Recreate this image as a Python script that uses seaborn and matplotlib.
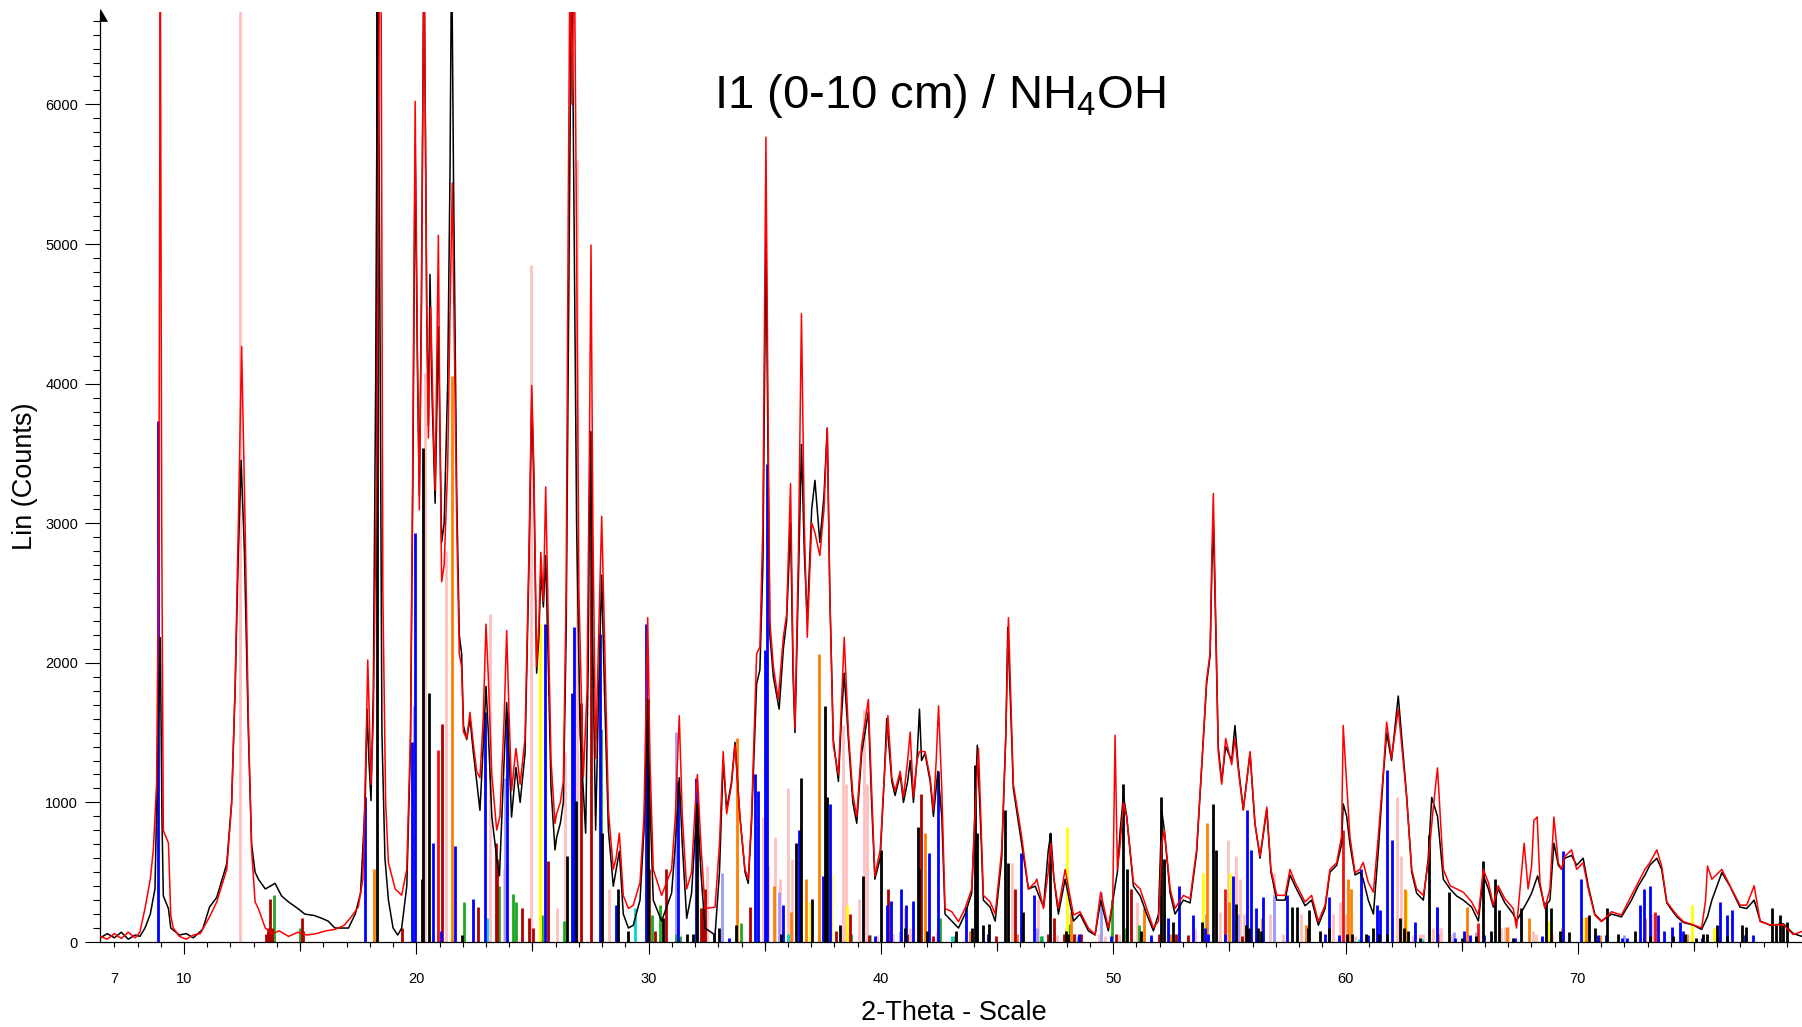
import numpy as np
import matplotlib
matplotlib.use("Agg")
import matplotlib.pyplot as plt
import seaborn as sns
from matplotlib.patches import Polygon
from matplotlib.ticker import FixedLocator, MultipleLocator, FuncFormatter

red_scan = [
    (6.40, 40), (6.7, 20), (7.0, 60), (7.3, 25), (7.6, 70), (7.9, 30), (8.1, 70), (8.32, 240),
    (8.55, 450), (8.68, 660), (8.82, 1130), (8.92, 3000), (8.98, 7200), (9.04, 3000), (9.11, 800),
    (9.2, 760), (9.33, 710), (9.43, 190), (9.54, 100), (9.8, 40), (10.1, 20), (10.4, 50), (10.7, 60),
    (10.83, 100), (11.1, 180), (11.41, 287), (11.84, 520), (12.05, 990), (12.2, 1832), (12.34, 3003),
    (12.48, 4267), (12.63, 3000), (12.77, 1600), (12.91, 660), (13.06, 287), (13.2, 240), (13.5, 100),
    (13.8, 60), (14.1, 80), (14.5, 40), (14.9, 70), (15.3, 50), (15.7, 60), (16.1, 80), (16.5, 90),
    (16.9, 120), (17.2, 180), (17.5, 250), (17.7, 450), (17.85, 1500), (17.91, 2020), (17.98, 1600),
    (18.05, 1130), (18.15, 1600), (18.3, 3500), (18.42, 7200), (18.48, 7200), (18.56, 2500),
    (18.68, 1000), (18.8, 568), (19.09, 380), (19.37, 335), (19.59, 520), (19.75, 1500), (19.85, 3500),
    (19.95, 6022), (20.05, 4200), (20.13, 3096), (20.22, 4500), (20.33, 7200), (20.45, 4500),
    (20.52, 3611), (20.62, 4548), (20.72, 3800), (20.81, 3236), (20.95, 5062), (21.02, 3600),
    (21.09, 2581), (21.2, 2700), (21.35, 3400), (21.45, 4500), (21.55, 5437), (21.62, 4500),
    (21.74, 3000), (21.85, 2066), (21.95, 1972), (22.03, 1504), (22.17, 1458), (22.31, 1645),
    (22.46, 1410), (22.6, 1223), (22.74, 1176), (22.88, 1600), (23.0, 2277), (23.1, 1900),
    (23.25, 1200), (23.46, 802), (23.6, 900), (23.78, 1600), (23.89, 2230), (23.98, 1700),
    (24.1, 1083), (24.29, 1387), (24.47, 1130), (24.68, 1458), (24.85, 2800), (24.97, 3986),
    (25.06, 3400), (25.18, 1972), (25.28, 2300), (25.36, 2792), (25.47, 2441), (25.57, 3260),
    (25.68, 2300), (25.8, 1300), (25.97, 849), (26.04, 919), (26.2, 1000), (26.33, 1150),
    (26.45, 2500), (26.55, 5500), (26.62, 7200), (26.7, 6000), (26.8, 7200), (26.9, 5000),
    (27.0, 2500), (27.19, 1177), (27.35, 1800), (27.45, 3500), (27.52, 4992), (27.6, 3000),
    (27.72, 1317), (27.85, 2200), (27.98, 3050), (28.1, 2200), (28.27, 943), (28.48, 520),
    (28.6, 600), (28.74, 779), (28.91, 334), (29.13, 240), (29.34, 264), (29.63, 427), (29.8, 900),
    (29.96, 2323), (30.06, 1300), (30.2, 520), (30.56, 334), (30.99, 520), (31.15, 900),
    (31.32, 1621), (31.45, 900), (31.64, 380), (31.85, 500), (31.98, 900), (32.1, 1200), (32.25, 700),
    (32.43, 240), (32.86, 250), (33.05, 700), (33.21, 1364), (33.36, 919), (33.57, 1130),
    (33.72, 1410), (33.93, 896), (34.15, 520), (34.29, 450), (34.43, 896), (34.65, 2066),
    (34.79, 2113), (34.92, 3000), (35.05, 5765), (35.14, 3800), (35.22, 2300), (35.37, 1972),
    (35.58, 1738), (35.8, 2183), (35.94, 2347), (36.11, 3283), (36.22, 2000), (36.3, 1528),
    (36.45, 2800), (36.58, 4501), (36.7, 3000), (36.83, 2183), (37.02, 3003), (37.16, 2932),
    (37.37, 2768), (37.55, 3100), (37.69, 3681), (37.8, 2500), (37.95, 1410), (38.17, 1200),
    (38.3, 1700), (38.42, 2183), (38.6, 1504), (38.79, 1060), (38.96, 896), (39.17, 1410),
    (39.46, 1738), (39.53, 1400), (39.74, 474), (39.97, 660), (40.15, 1200), (40.3, 1621),
    (40.47, 1177), (40.61, 1083), (40.83, 1223), (40.97, 1036), (41.15, 1300), (41.26, 1504),
    (41.4, 1036), (41.55, 1300), (41.66, 1364), (41.9, 1364), (42.12, 1177), (42.26, 943),
    (42.38, 1300), (42.48, 1692), (42.62, 1100), (42.76, 240), (43.05, 217), (43.34, 146),
    (43.62, 240), (43.91, 380), (44.05, 900), (44.2, 1387), (44.3, 900), (44.41, 334), (44.7, 287),
    (44.92, 200), (45.2, 660), (45.38, 1500), (45.49, 2323), (45.58, 1800), (45.7, 1130),
    (46.06, 755), (46.35, 380), (46.64, 427), (46.71, 450), (47.0, 240), (47.2, 500), (47.31, 708),
    (47.45, 450), (47.64, 240), (47.93, 520), (48.29, 193), (48.57, 217), (48.93, 100), (49.22, 53),
    (49.46, 357), (49.79, 100), (49.98, 300), (50.08, 1481), (50.18, 520), (50.3, 700),
    (50.44, 1000), (50.58, 896), (50.87, 427), (51.16, 380), (51.44, 240), (51.73, 100),
    (51.95, 150), (52.09, 700), (52.2, 802), (52.45, 380), (52.66, 240), (53.02, 334), (53.31, 310),
    (53.59, 660), (53.88, 1458), (54.02, 1879), (54.17, 2066), (54.25, 2800), (54.31, 3213),
    (54.42, 2230), (54.52, 1364), (54.67, 1130), (54.84, 1458), (55.1, 1270), (55.24, 1458),
    (55.39, 1223), (55.6, 943), (55.89, 1364), (56.1, 849), (56.32, 614), (56.61, 966), (56.79, 520),
    (57.04, 334), (57.4, 334), (57.61, 520), (57.83, 427), (58.26, 287), (58.54, 334), (58.83, 146),
    (59.12, 264), (59.33, 520), (59.62, 568), (59.83, 755), (59.9, 1551), (60.05, 1130),
    (60.19, 755), (60.41, 497), (60.62, 520), (60.76, 570), (60.98, 427), (61.2, 357), (61.41, 755),
    (61.63, 1223), (61.77, 1575), (61.98, 1317), (62.27, 1668), (62.63, 1036), (62.85, 520),
    (63.06, 380), (63.35, 334), (63.56, 570), (63.8, 1000), (63.96, 1247), (64.21, 520),
    (64.5, 403), (64.78, 380), (65.07, 357), (65.43, 287), (65.72, 193), (65.93, 520), (66.15, 427),
    (66.36, 264), (66.57, 403), (66.86, 310), (67.22, 240), (67.36, 100), (67.69, 708), (67.86, 380),
    (68.01, 544), (68.11, 872), (68.25, 895), (68.37, 427), (68.58, 240), (68.8, 380), (68.97, 895),
    (69.16, 568), (69.3, 520), (69.44, 614), (69.73, 660), (69.95, 520), (70.23, 568), (70.45, 380),
    (70.73, 193), (71.02, 146), (71.45, 217), (71.88, 193), (72.31, 334), (72.6, 427), (72.89, 520),
    (73.1, 568), (73.4, 660), (73.61, 544), (73.83, 287), (74.04, 240), (74.26, 193), (74.55, 146),
    (74.98, 123), (75.33, 100), (75.5, 300), (75.58, 544), (75.77, 450), (76.2, 520), (76.55, 403),
    (76.98, 264), (77.27, 264), (77.59, 403), (77.85, 146), (78.28, 123), (78.85, 123), (79.28, 53),
    (79.65, 76),
]

black_scan = [
    (6.40, 30), (6.7, 60), (7.0, 30), (7.3, 70), (7.6, 20), (7.9, 50), (8.1, 40), (8.32, 100),
    (8.55, 200), (8.75, 380), (8.9, 1600), (8.98, 2180), (9.05, 900), (9.11, 330), (9.33, 240),
    (9.43, 100), (9.8, 50), (10.1, 60), (10.4, 30), (10.8, 90), (11.1, 250), (11.41, 320),
    (11.84, 560), (12.05, 1000), (12.2, 1800), (12.34, 2800), (12.46, 3450), (12.6, 2800),
    (12.77, 1500), (12.91, 700), (13.06, 500), (13.2, 450), (13.5, 380), (13.92, 420), (14.2, 330),
    (14.5, 287), (14.9, 240), (15.2, 200), (15.6, 190), (15.93, 170), (16.2, 150), (16.5, 100),
    (17.08, 100), (17.37, 200), (17.6, 350), (17.8, 1000), (17.88, 1668), (17.96, 1300),
    (18.05, 1013), (18.15, 1800), (18.25, 4000), (18.34, 7200), (18.42, 5000), (18.52, 1500),
    (18.65, 600), (18.8, 300), (19.0, 100), (19.2, 50), (19.37, 100), (19.59, 400), (19.75, 1400),
    (19.85, 3300), (19.95, 5700), (20.05, 4100), (20.13, 3200), (20.22, 4600), (20.33, 7200),
    (20.45, 4500), (20.52, 3700), (20.59, 4782), (20.68, 3900), (20.81, 3143), (20.95, 4407),
    (21.09, 2862), (21.2, 3000), (21.35, 4000), (21.45, 5500), (21.52, 7200), (21.6, 5500),
    (21.74, 3200), (21.85, 2200), (21.95, 2066), (22.03, 1550), (22.17, 1450), (22.31, 1600),
    (22.46, 1350), (22.6, 1150), (22.74, 943), (22.88, 1400), (23.0, 1832), (23.1, 1500),
    (23.25, 900), (23.46, 600), (23.58, 474), (23.78, 1300), (23.89, 1715), (23.98, 1400),
    (24.1, 895), (24.29, 1250), (24.47, 1000), (24.68, 1350), (24.85, 2700), (24.97, 3900),
    (25.06, 3300), (25.18, 1926), (25.28, 2200), (25.36, 2650), (25.47, 2400), (25.57, 2768),
    (25.68, 2000), (25.8, 1100), (25.97, 660), (26.04, 750), (26.2, 850), (26.33, 1000),
    (26.45, 2200), (26.58, 5000), (26.69, 7200), (26.8, 5000), (26.9, 3000), (27.05, 1500),
    (27.29, 779), (27.4, 2000), (27.48, 3658), (27.56, 2500), (27.72, 802), (27.85, 1800),
    (27.98, 2628), (28.1, 1800), (28.27, 800), (28.48, 400), (28.74, 650), (28.91, 200), (29.13, 100),
    (29.34, 120), (29.63, 300), (29.8, 800), (29.96, 1738), (30.06, 1000), (30.2, 300), (30.56, 150),
    (30.99, 350), (31.15, 700), (31.32, 1177), (31.45, 700), (31.64, 170), (31.85, 350), (31.98, 700),
    (32.1, 989), (32.25, 500), (32.43, 100), (32.86, 50), (33.05, 500), (33.21, 1300), (33.36, 950),
    (33.57, 1150), (33.72, 1430), (33.93, 900), (34.15, 500), (34.29, 420), (34.43, 850),
    (34.65, 1850), (34.79, 1950), (34.92, 2700), (35.05, 5086), (35.14, 3500), (35.22, 2200),
    (35.37, 1900), (35.62, 1668), (35.8, 2100), (35.94, 2300), (36.11, 3000), (36.22, 1900),
    (36.3, 1500), (36.45, 2600), (36.58, 3564), (36.7, 2800), (36.83, 2300), (37.02, 3100),
    (37.16, 3307), (37.37, 2862), (37.55, 3200), (37.69, 3681), (37.8, 2500), (37.95, 1450),
    (38.17, 1150), (38.3, 1600), (38.42, 1926), (38.6, 1450), (38.79, 1000), (38.96, 850),
    (39.17, 1350), (39.46, 1650), (39.6, 1000), (39.74, 450), (39.97, 600), (40.15, 1200),
    (40.25, 1600), (40.47, 1150), (40.61, 1050), (40.83, 1200), (40.97, 1000), (41.15, 1150),
    (41.26, 1300), (41.4, 1000), (41.55, 1300), (41.66, 1668), (41.75, 1300), (41.9, 1350),
    (42.12, 1150), (42.26, 900), (42.38, 1100), (42.45, 1223), (42.62, 900), (42.76, 200),
    (43.05, 150), (43.34, 100), (43.62, 200), (43.91, 350), (44.05, 950), (44.15, 1410), (44.3, 800),
    (44.41, 300), (44.7, 250), (44.92, 150), (45.2, 600), (45.38, 1500), (45.46, 2253), (45.58, 1700),
    (45.7, 1100), (46.06, 700), (46.35, 380), (46.64, 400), (47.0, 250), (47.2, 650), (47.31, 779),
    (47.45, 450), (47.64, 200), (47.93, 450), (48.29, 150), (48.57, 200), (48.93, 80), (49.22, 50),
    (49.46, 300), (49.79, 80), (50.08, 400), (50.18, 500), (50.3, 800), (50.44, 1050), (50.58, 900),
    (50.87, 400), (51.16, 330), (51.44, 200), (51.73, 80), (51.95, 200), (52.09, 943), (52.2, 800),
    (52.45, 350), (52.66, 200), (53.02, 300), (53.31, 280), (53.59, 640), (53.88, 1450),
    (54.02, 1850), (54.17, 2050), (54.25, 2700), (54.31, 3003), (54.42, 2200), (54.52, 1400),
    (54.67, 1150), (54.84, 1400), (55.1, 1300), (55.24, 1551), (55.39, 1250), (55.6, 950),
    (55.89, 1350), (56.1, 850), (56.32, 600), (56.61, 950), (56.79, 500), (57.04, 300), (57.4, 300),
    (57.61, 480), (57.83, 400), (58.26, 260), (58.54, 300), (58.83, 120), (59.12, 240), (59.33, 500),
    (59.62, 550), (59.83, 700), (59.9, 989), (60.05, 900), (60.19, 700), (60.41, 480), (60.62, 500),
    (60.76, 450), (60.98, 300), (61.2, 200), (61.41, 650), (61.63, 1200), (61.77, 1500),
    (61.98, 1300), (62.27, 1762), (62.63, 1050), (62.85, 500), (63.06, 350), (63.35, 300),
    (63.56, 600), (63.71, 1036), (63.96, 900), (64.21, 450), (64.5, 380), (64.78, 330), (65.07, 300),
    (65.43, 250), (65.72, 150), (65.93, 480), (66.15, 380), (66.36, 250), (66.57, 380), (66.86, 280),
    (67.22, 200), (67.36, 150), (67.69, 250), (67.86, 300), (68.01, 350), (68.27, 474), (68.37, 400),
    (68.58, 250), (68.8, 300), (68.97, 708), (69.16, 550), (69.3, 520), (69.44, 600), (69.73, 620),
    (69.95, 550), (70.23, 600), (70.45, 400), (70.73, 200), (71.02, 150), (71.45, 200), (71.88, 180),
    (72.31, 300), (72.6, 400), (72.89, 480), (73.1, 550), (73.4, 600), (73.61, 520), (73.83, 280),
    (74.04, 230), (74.26, 180), (74.55, 140), (74.98, 120), (75.33, 90), (75.58, 180), (75.77, 300),
    (76.2, 497), (76.55, 400), (76.98, 250), (77.27, 240), (77.59, 300), (77.85, 150), (78.28, 120),
    (78.85, 130), (79.28, 60), (79.65, 40),
]

# reference pattern sticks, (2-theta, counts)
blue_sticks = [
    (8.9, 3730), (17.8, 1036), (19.8, 1434), (19.95, 2932), (20.73, 708), (21.05, 76), (21.68, 685),
    (22.46, 310), (22.96, 1645), (23.89, 1645), (25.54, 2277), (26.69, 1785), (26.79, 2253),
    (27.91, 2206), (28.6, 264), (29.87, 2277), (31.25, 1153), (32.04, 1177), (33.45, 30),
    (34.58, 1200), (34.72, 1083), (35.01, 2090), (35.08, 3424), (35.8, 264), (36.46, 802),
    (37.52, 474), (37.8, 989), (39.74, 40), (40.25, 264), (40.44, 296), (40.87, 380), (41.07, 264),
    (41.36, 296), (42.05, 638), (42.45, 1223), (43.67, 250), (44.6, 60), (46.02, 638), (46.57, 334),
    (48.53, 60), (49.9, 40), (51.61, 50), (52.34, 170), (52.83, 403), (53.45, 193), (53.95, 100),
    (54.1, 60), (54.81, 60), (55.14, 474), (55.77, 943), (55.93, 660), (56.15, 240), (56.46, 320),
    (57.47, 334), (59.12, 60), (59.29, 320), (59.7, 50), (60.65, 520), (60.98, 50), (61.34, 264),
    (61.48, 226), (61.77, 1233), (61.98, 732), (63.0, 146), (63.92, 250), (64.7, 30), (65.1, 80),
    (65.35, 50), (65.98, 50), (67.3, 30), (68.44, 40), (69.37, 650), (70.13, 450), (70.87, 50),
    (71.2, 50), (71.9, 30), (72.1, 30), (72.67, 264), (72.84, 380), (73.1, 403), (73.43, 193),
    (73.71, 80), (74.04, 110), (74.4, 146), (74.52, 80), (75.33, 30), (76.12, 287), (76.41, 193),
    (76.63, 226), (77.2, 50), (77.56, 50),
]
black_sticks = [
    (18.30, 7200), (20.23, 450), (20.28, 3541), (20.55, 1785), (21.95, 50), (26.47, 614),
    (26.86, 1013), (27.98, 779), (28.70, 380), (29.13, 80), (29.96, 1738), (30.6, 170), (31.64, 60),
    (31.9, 60), (32.1, 989), (32.8, 60), (33.04, 100), (33.76, 123), (35.7, 60), (36.34, 708),
    (36.56, 1177), (37.02, 310), (37.6, 1692), (37.69, 1036), (38.23, 120), (39.24, 474),
    (40.01, 660), (41.04, 100), (41.59, 826), (41.66, 520), (41.97, 80), (43.25, 80), (43.9, 100),
    (44.05, 1270), (44.15, 779), (44.41, 123), (44.65, 130), (45.35, 943), (45.49, 568),
    (46.13, 217), (47.28, 779), (47.95, 80), (48.04, 60), (50.41, 1130), (50.58, 520), (51.2, 80),
    (52.04, 1036), (52.19, 591), (52.56, 146), (53.81, 146), (54.31, 989), (54.42, 660),
    (55.27, 273), (55.72, 123), (55.85, 100), (56.25, 100), (56.36, 80), (57.68, 250), (57.93, 250),
    (58.38, 100), (58.44, 226), (58.9, 80), (59.3, 100), (60.05, 60), (60.3, 60), (60.9, 60),
    (61.2, 100), (61.45, 60), (61.8, 60), (62.34, 170), (62.5, 100), (62.7, 80), (63.2, 30),
    (63.59, 765), (64.46, 357), (65.0, 30), (65.61, 40), (65.93, 577), (66.25, 80), (66.45, 450),
    (66.6, 226), (67.2, 30), (67.55, 240), (68.65, 287), (68.84, 240), (69.22, 80), (69.6, 70),
    (70.48, 190), (70.73, 100), (71.24, 240), (71.75, 60), (72.44, 80), (73.11, 40), (74.08, 40),
    (74.6, 60), (75.1, 30), (75.4, 60), (75.55, 60), (75.98, 120), (76.4, 40), (77.05, 123),
    (77.25, 110), (78.35, 240), (78.55, 120), (78.7, 193), (78.85, 120), (78.99, 146),
]
darkred_sticks = [
    (13.55, 60), (13.62, 100), (13.7, 310), (13.78, 100), (15.07, 170), (15.12, 80), (19.37, 100),
    (21.09, 1560), (22.66, 250), (23.43, 708), (23.49, 591), (24.54, 240), (24.83, 170),
    (25.04, 100), (25.66, 577), (27.09, 1715), (27.52, 3658), (30.03, 520), (30.27, 80),
    (30.77, 520), (32.25, 240), (32.33, 240), (32.43, 380), (34.36, 250), (38.05, 80), (38.67, 200),
    (39.5, 50), (40.3, 380), (41.14, 60), (41.73, 1060), (42.26, 40), (44.94, 40), (45.78, 380),
    (47.18, 60), (47.47, 170), (47.9, 60), (48.33, 60), (48.63, 60), (50.12, 60), (50.77, 380),
    (51.99, 60), (52.7, 60), (53.2, 50), (55.55, 40),
]
red_sticks = [(20.92, 1373), (54.81, 380), (59.9, 802), (65.72, 137), (73.33, 217)]
pink_sticks = [
    (12.43, 7200), (20.38, 4079), (21.28, 2800), (23.17, 2347), (23.78, 520), (24.94, 4852),
    (26.07, 240), (26.40, 1364), (26.92, 5600), (28.31, 380), (32.53, 544), (34.94, 896),
    (35.15, 544), (35.44, 755), (35.65, 450), (36.01, 1106), (36.16, 591), (38.35, 1551),
    (38.49, 1130), (39.07, 310), (39.28, 1668), (39.38, 1130), (39.82, 50), (40.35, 60), (40.54, 60),
    (41.04, 240), (41.26, 100), (42.42, 80), (45.63, 568), (46.78, 310), (47.6, 50), (47.97, 100),
    (48.36, 60), (49.4, 60), (49.65, 40), (50.27, 60), (51.01, 287), (52.6, 50), (53.5, 100),
    (54.6, 217), (54.93, 732), (55.27, 614), (55.46, 450), (55.65, 200), (56.35, 60), (56.75, 200),
    (56.9, 497), (57.3, 60), (58.08, 200), (59.48, 200), (59.76, 287), (60.02, 200), (60.4, 40),
    (62.23, 1036), (62.4, 614), (62.9, 50), (63.2, 60), (63.35, 60), (63.6, 100), (63.78, 100),
    (64.05, 100), (64.13, 100), (64.6, 60), (65.18, 60), (66.7, 100), (66.85, 110), (67.0, 110),
    (67.9, 80), (68.05, 80), (68.2, 60), (68.9, 60), (73.2, 200),
]
orange_sticks = [
    (18.18, 520), (21.54, 4056), (26.73, 450), (33.82, 1458), (35.39, 403), (36.11, 217),
    (36.78, 450), (37.32, 2066), (41.9, 779), (43.84, 80), (45.85, 60), (48.17, 217), (51.34, 240),
    (52.45, 60), (54.02, 849), (54.98, 287), (56.42, 170), (58.3, 120), (60.12, 450), (60.23, 380),
    (62.56, 380), (63.98, 60), (65.25, 250), (66.93, 110), (67.91, 170), (69.34, 100), (70.37, 180),
    (70.94, 50), (72.9, 170), (74.7, 60), (76.05, 40),
]
yellow_sticks = [
    (25.33, 2277), (36.95, 287), (37.83, 497), (38.55, 264), (48.03, 826), (53.85, 497),
    (55.03, 497), (61.99, 100), (62.62, 367), (68.73, 150), (70.23, 180), (74.93, 266), (75.85, 100),
]
green_sticks = [
    (13.89, 334), (15.0, 100), (22.07, 287), (23.56, 403), (24.15, 343), (24.29, 287), (25.4, 193),
    (26.36, 150), (27.94, 1528), (30.13, 193), (30.49, 264), (31.16, 60), (31.35, 40), (33.96, 137),
    (38.7, 60), (42.55, 170), (43.2, 40), (46.9, 40), (48.1, 130), (49.94, 310), (50.55, 100),
    (51.1, 120),
]
cyan_sticks = [
    (23.06, 170), (29.41, 240), (36.0, 60), (39.55, 50), (43.08, 40), (46.93, 40), (48.5, 40),
    (60.6, 20), (63.3, 20), (68.8, 20), (70.85, 20), (76.0, 20),
]
lavender_sticks = [
    (19.9, 1691), (23.82, 1177), (24.21, 170), (31.2, 1504), (33.14, 497), (35.62, 357),
    (40.83, 80), (46.71, 100), (49.46, 357), (53.98, 200), (55.35, 200), (56.93, 340), (63.92, 250),
    (64.68, 70), (65.6, 70), (72.0, 50),
]

# drawing order: pale patterns behind, strong ones in front
phases = [
    (pink_sticks, "#FFC0C0"),
    (lavender_sticks, "#9A9AFF"),
    (cyan_sticks, "#00D8D8"),
    (green_sticks, "#1FA81F"),
    (yellow_sticks, "#FFFF00"),
    (orange_sticks, "#FF8000"),
    (darkred_sticks, "#B00000"),
    (red_sticks, "#F01010"),
    (blue_sticks, "#0000FF"),
    (black_sticks, "#000000"),
]

sns.set_theme(style="white")
plt.rcParams['font.family'] = ['Liberation Sans', 'DejaVu Sans']
plt.rcParams['mathtext.fontset'] = 'custom'
plt.rcParams['mathtext.rm'] = 'Liberation Sans'
plt.rcParams.update({'text.color': 'black', 'axes.labelcolor': 'black',
                     'xtick.color': 'black', 'ytick.color': 'black'})

W, H = 1802, 1027
fig = plt.figure(figsize=(W / 100, H / 100), dpi=100)
ax = fig.add_axes([100 / W, 1 - 942 / H, 1 - 100 / W, 930 / H])

for sticks, color in phases:
    pos, h = zip(*sticks)
    ax.vlines(pos, 0, h, color=color, lw=2.0, zorder=1)

bx, by = zip(*black_scan)
rx, ry = zip(*red_scan)
sns.lineplot(x=list(bx), y=list(by), color="black", lw=1.1, ax=ax, zorder=2,
             estimator=None, sort=False)
sns.lineplot(x=list(rx), y=list(ry), color="red", lw=1.1, ax=ax, zorder=3,
             estimator=None, sort=False)

ax.set_xlim(6.384, 79.65)
ax.set_ylim(0, 6662)
ax.set_xlabel("")
ax.set_ylabel("")
for s in ["top", "right"]:
    ax.spines[s].set_visible(False)
for s in ["left", "bottom"]:
    ax.spines[s].set_color("black")
    ax.spines[s].set_linewidth(0.9)

# x ticks: labelled tens, short unit ticks (7 labelled too), medium fives
ax.xaxis.set_major_locator(FixedLocator([10, 20, 30, 40, 50, 60, 70]))
ax.xaxis.set_minor_locator(FixedLocator(list(range(7, 80))))
ax.xaxis.set_minor_formatter(FuncFormatter(lambda v, p: "7" if abs(v - 7) < 1e-6 else ""))
ax.tick_params(axis="x", which="major", direction="out", length=8.6, width=0.8,
               pad=13, labelsize=10.5, colors="black", bottom=True)
ax.tick_params(axis="x", which="minor", direction="out", length=3.6, width=0.8,
               pad=18, labelsize=10.5, colors="black", bottom=True)
sec = ax.secondary_xaxis("bottom")
sec.set_xticks([15, 25, 35, 45, 55, 65, 75])
sec.set_xticklabels([])
sec.tick_params(direction="out", length=6.5, width=0.8, colors="black")
sec.spines["bottom"].set_visible(False)

ax.yaxis.set_major_locator(MultipleLocator(1000))
ax.yaxis.set_minor_locator(MultipleLocator(100))
ax.tick_params(axis="y", which="major", direction="out", length=10.8, width=0.8,
               pad=5, labelsize=10.5, colors="black", left=True)
ax.tick_params(axis="y", which="minor", direction="out", length=5, width=0.8,
               colors="black", left=True)
ax.grid(False)

# small arrowhead on top of the y axis
fig.patches.append(Polygon([[100 / W, 1 - 9 / H], [100 / W, 1 - 21 / H], [107 / W, 1 - 21 / H]],
                           closed=True, transform=fig.transFigure, facecolor="black",
                           edgecolor="black", lw=0.5))

fig.text(940 / W, 1 - 96 / H, r"I1 (0-10 cm) / NH$_\mathregular{4}$OH", fontsize=34,
         ha="center", va="center", color="black")
fig.text(25 / W, 1 - 476 / H, "Lin (Counts)", rotation=90, fontsize=19.5,
         ha="center", va="center", color="black")
fig.text(954 / W, 1 - 1013 / H, "2-Theta - Scale", fontsize=19.5, ha="center", va="center",
         color="black")

fig.savefig("out.png", dpi=100)
